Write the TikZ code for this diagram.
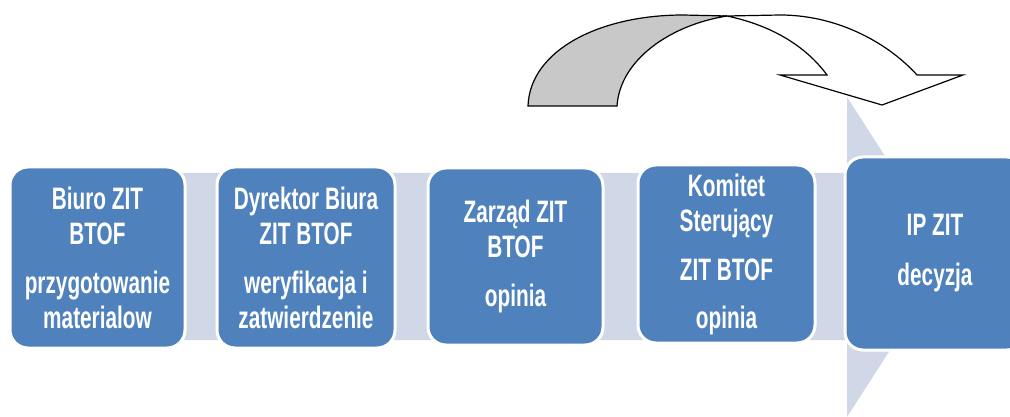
\documentclass[tikz,border=0pt]{standalone}
\usepackage{fontspec}
\newfontfamily\boxfont{Liberation Sans}[FakeStretch=0.67]
\definecolor{boxblue}{HTML}{4F81BD}
\definecolor{bandblue}{HTML}{D0D8E8}
\definecolor{arrowgray}{HTML}{C8C8C8}
\begin{document}
\begin{tikzpicture}[x=1pt,y=-1pt,
  stagebox/.style={rectangle, rounded corners=18pt, fill=boxblue, draw=white,
    line width=3pt, inner sep=0pt, align=center, text=white,
    font=\boxfont\bfseries\fontsize{31}{35}\selectfont},
  bandshape/.style={fill=bandblue, draw=none},
  ribbon/.style={draw=black, line width=1.2pt, line join=miter}]
\clip (0,0) rectangle (1010,417);
\fill[white] (0,0) rectangle (1010,417);
% background band arrow
\fill[bandshape] (15,173) -- (847,173) -- (847,97) -- (950,257) -- (847,417) -- (847,340) -- (15,340) -- cycle;
% curved arrow: back (grey) part
\filldraw[ribbon, fill=arrowgray] (528,106) .. controls (530,50) and (600,15) .. (683,15) -- (727,16)
  .. controls (670,25) and (620,60) .. (617,106) -- cycle;
% curved arrow: front (white) part
\filldraw[ribbon, fill=white] (727,16) -- (780,15) .. controls (840,15) and (890,45) .. (917,75)
  -- (963,75) -- (882,105) -- (780,75) -- (827,75) .. controls (805,45) and (770,25) .. (727,16) -- cycle;
% stage boxes
\node[stagebox, minimum width=175pt, minimum height=181pt] (b1) at (97.5,257.5)
  {Biuro ZIT\\BTOF\\[14pt]przygotowanie\\materialow};
\node[stagebox, minimum width=178pt, minimum height=181pt] (b2) at (306,257.5)
  {Dyrektor Biura\\ZIT BTOF\\[14pt]weryfikacja i\\zatwierdzenie};
\node[stagebox, minimum width=175pt, minimum height=177pt] (b3) at (515.5,256.5)
  {Zarząd ZIT\\BTOF\\[14pt]opinia};
\node[stagebox, minimum width=177pt, minimum height=178pt] (b4) at (726.5,254)
  {Komitet\\Sterujący\\[14pt]ZIT BTOF\\[13pt]opinia};
\node[stagebox, minimum width=180pt, minimum height=193pt] (b5) at (935,253.5)
  {IP ZIT\\[15pt]decyzja};
\end{tikzpicture}
\end{document}
